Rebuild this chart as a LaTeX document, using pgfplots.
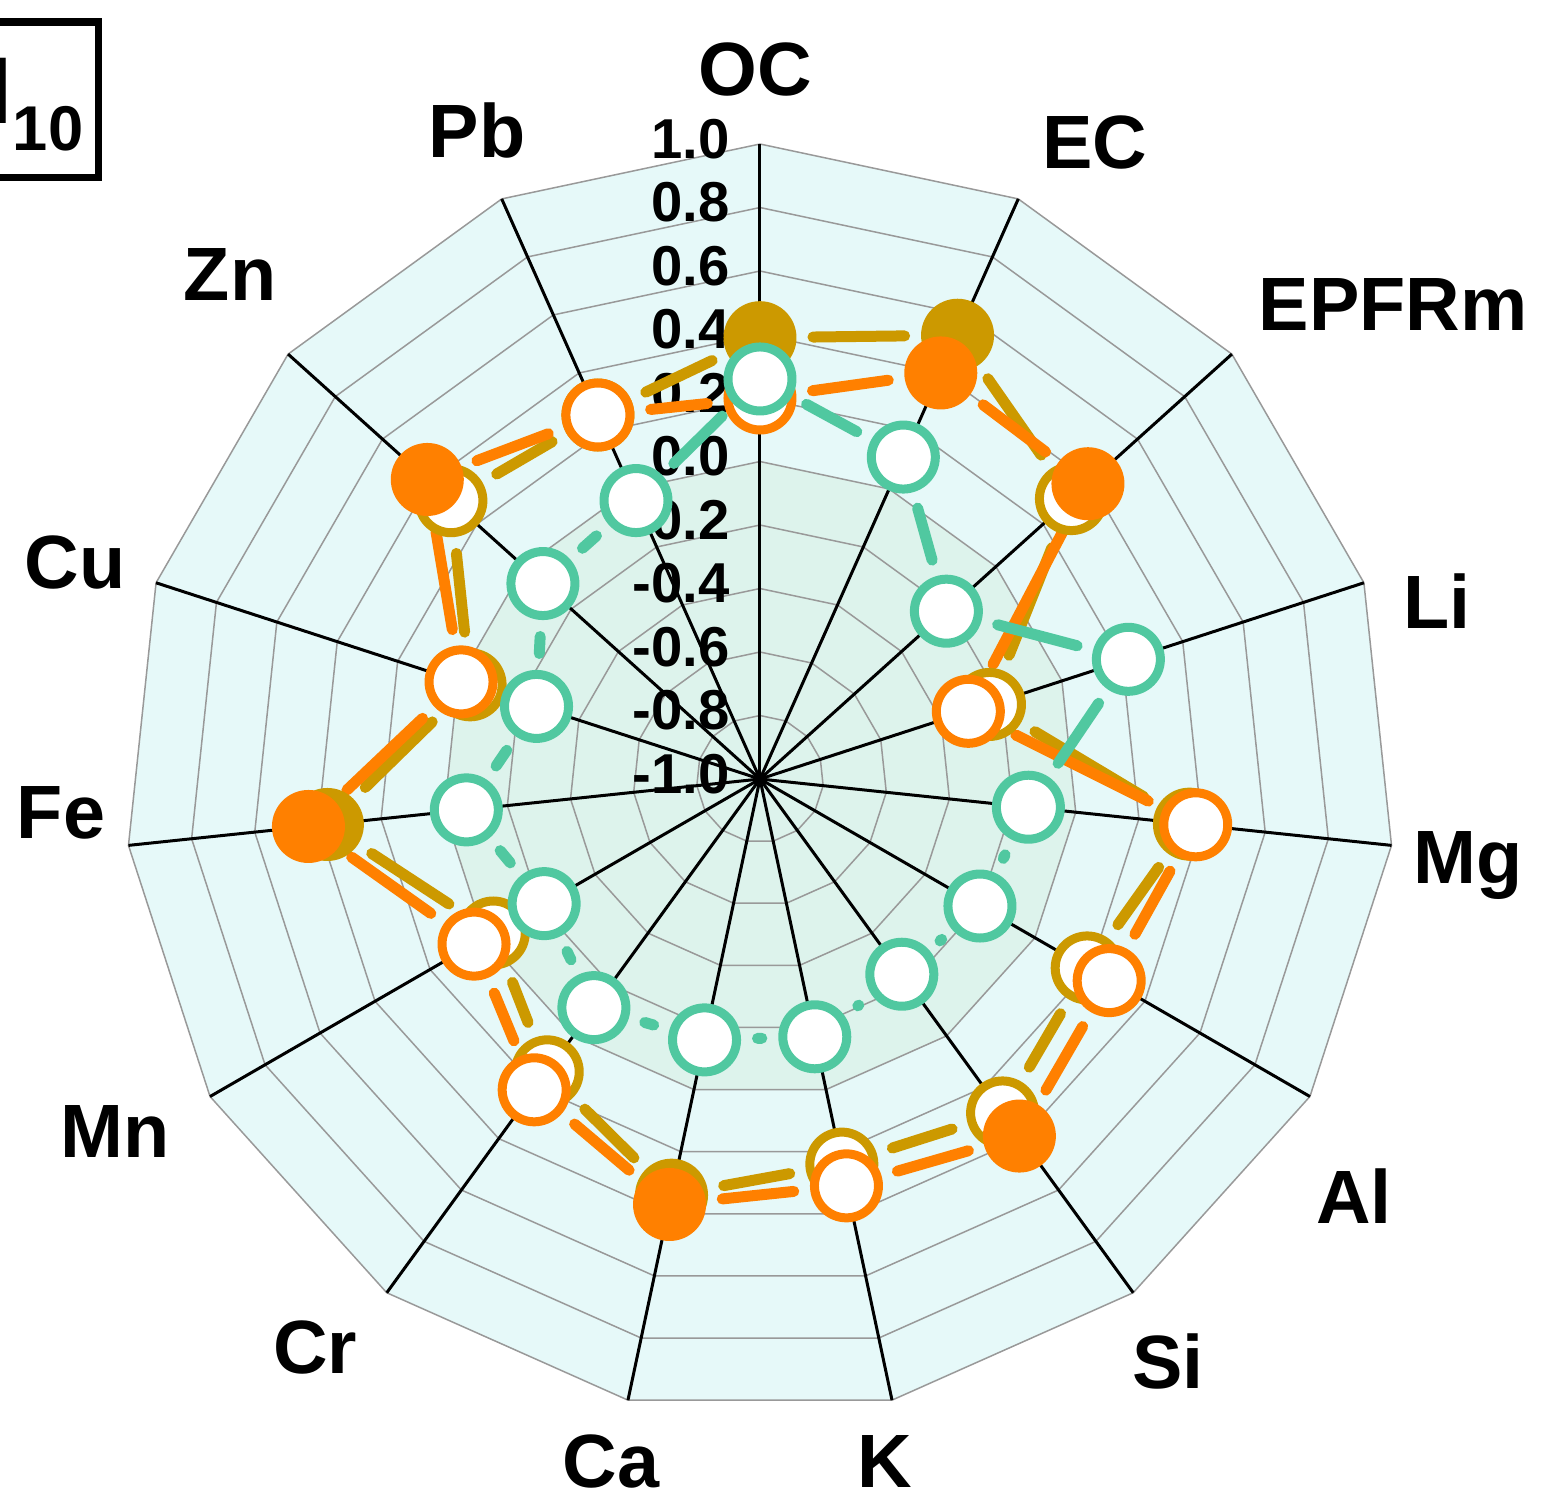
\documentclass[border=0pt]{standalone}
\usepackage{pgfplots}
\pgfplotsset{compat=1.18}
\usepackage{pgfplotstable}
\usepgfplotslibrary{polar}
\usepackage{fontspec}
\setmainfont{Liberation Sans}

\definecolor{cgold}{HTML}{CC9900}
\definecolor{corange}{HTML}{FF8000}
\definecolor{cteal}{HTML}{50C8A0}
\definecolor{bgout}{HTML}{E6F9F9}
\definecolor{bgin}{HTML}{DDF3EC}
\definecolor{gridc}{HTML}{999999}

% i = spoke index (OC=0, clockwise), values of the three series, f = filled marker, o = open marker
\pgfplotstableread{
i  gold    orange  teal    g o t
0  0.39    0.20    0.26    f o o
1  0.53    0.40    0.11    f f o
2  0.32    0.39    -0.21   o f o
3  -0.24   -0.31   0.22    o o o
4  0.36    0.38    -0.15   o o o
5  0.19    0.27    -0.20   o o o
6  0.30    0.39    -0.24   o f o
7  0.24    0.31    -0.17   o o o
8  0.34    0.37    -0.16   f f o
9  0.14    0.21    -0.11   o o o
10 -0.03   0.04    -0.215  o o o
11 0.37    0.43    -0.07   f f o
12 -0.04   -0.01   -0.26   o o o
13 0.31    0.41    -0.08   o f o
14 0.255   0.255   -0.04   o o o
15 0.39    0.20    0.26    f o o
}\data

\pgfplotstableread{
a     r
90    1
66    1
42    1
18    1
-6    1
-30   1
-54   1
-78   1
-102  1
-126  1
-150  1
-174  1
-198  1
-222  1
-246  1
-270  1
}\angles

\pgfplotsset{
  segbase/.style={line width=1.1mm, line cap=round, shorten <=5.3mm, shorten >=5.3mm, forget plot, no markers},
}

\newcommand\segs[2]{%
  \pgfplotsforeachungrouped \k in {0,...,14}{%
    \pgfmathtruncatemacro\kn{\k+1}%
    \pgfmathsetmacro\aa{90-24*\k}%
    \pgfmathsetmacro\ab{90-24*\kn}%
    \pgfplotstablegetelem{\k}{#1}\of\data
    \pgfmathsetmacro\ra{\pgfplotsretval+1}%
    \pgfplotstablegetelem{\kn}{#1}\of\data
    \pgfmathsetmacro\rb{\pgfplotsretval+1}%
    \edef\tmp{\noexpand\addplot[segbase,#2] coordinates {(\aa,\ra) (\ab,\rb)};}\tmp
  }%
}

\begin{document}
\begin{tikzpicture}
\path[use as bounding box] (-7.60,-7.21) rectangle (7.84,7.79);
\begin{polaraxis}[
  at={(0,0)}, anchor=origin,
  scale only axis, width=12.7cm, height=12.7cm,
  xmin=0, xmax=360, ymin=0, ymax=2,
  hide axis, grid=none, xtick=\empty, ytick=\empty,
  clip=false,
]
% background
\addplot[draw=none, fill=bgout, forget plot] table[x=a, y expr={2*\thisrow{r}}] {\angles};
\addplot[draw=none, fill=bgin, forget plot] table[x=a, y expr={\thisrow{r}}] {\angles};
% rings every 0.2
\pgfplotsinvokeforeach{0.2,0.4,0.6,0.8,1.0,1.2,1.4,1.6,1.8,2.0}{
  \addplot[gridc, line width=0.15mm, forget plot] table[x=a, y expr={#1*\thisrow{r}}] {\angles};
}
% spokes
\pgfplotsinvokeforeach{90,66,42,18,-6,-30,-54,-78,-102,-126,-150,-174,-198,-222,-246}{
  \addplot[black, line width=0.3mm, forget plot] coordinates {(0,0) (#1,2)};
}
% radial tick labels
\pgfplotsinvokeforeach{1.0/2.0,0.8/1.8,0.6/1.6,0.4/1.4,0.2/1.2,0.0/1.0,-0.2/0.8,-0.4/0.6,-0.6/0.4,-0.8/0.2,-1.0/0.0}{
  \foreach \lab/\rr in {#1}{
    \edef\tmp{\noexpand\node[anchor=east, inner sep=0pt, xshift=-3mm, yshift=0.5mm, font=\noexpand\fontsize{16pt}{16pt}\noexpand\selectfont\noexpand\bfseries] at (axis cs:90,\rr) {\lab};}\tmp
  }
}
% gold series
\segs{gold}{cgold}
\addplot[scatter, only marks, point meta=explicit symbolic, mark size=3.2mm,
  skip coords between index={15}{16},
  scatter/classes={f={mark=*, draw=cgold, fill=cgold, line width=0.9mm},
                   o={mark=*, draw=cgold, fill=white, line width=0.9mm}}]
  table[x expr={90-24*\thisrow{i}}, y expr={\thisrow{gold}+1}, meta=g] {\data};
% orange series
\segs{orange}{corange}
\addplot[scatter, only marks, point meta=explicit symbolic, mark size=3.2mm,
  skip coords between index={15}{16},
  scatter/classes={f={mark=*, draw=corange, fill=corange, line width=0.9mm},
                   o={mark=*, draw=corange, fill=white, line width=0.9mm}}]
  table[x expr={90-24*\thisrow{i}}, y expr={\thisrow{orange}+1}, meta=o] {\data};
% teal series
\segs{teal}{cteal}
\addplot[scatter, only marks, point meta=explicit symbolic, mark size=3.2mm,
  skip coords between index={15}{16},
  scatter/classes={f={mark=*, draw=cteal, fill=cteal, line width=0.9mm},
                   o={mark=*, draw=cteal, fill=white, line width=0.9mm}}]
  table[x expr={90-24*\thisrow{i}}, y expr={\thisrow{teal}+1}, meta=t] {\data};
\end{polaraxis}

% category labels
\begin{scope}[every node/.style={anchor=base, inner sep=0pt, font=\fontsize{21.5pt}{21.5pt}\selectfont\bfseries}]
\node at (-0.05,6.84) {OC};
\node at (3.35,6.11) {EC};
\node at (6.33,4.49) {EPFRm};
\node at (6.77,1.51) {Li};
\node at (7.08,-1.04) {Mg};
\node at (5.94,-4.44) {Al};
\node at (4.08,-6.09) {Si};
\node at (1.25,-7.08) {K};
\node at (-1.49,-7.08) {Ca};
\node at (-4.45,-5.94) {Cr};
\node at (-6.45,-3.78) {Mn};
\node at (-6.99,-0.59) {Fe};
\node at (-6.85,1.91) {Cu};
\node at (-5.30,4.79) {Zn};
\node at (-2.83,6.22) {Pb};
\end{scope}

% panel tag
\draw[line width=0.75mm] (-9,6.015) rectangle (-6.615,7.57);
\node[anchor=base east, inner sep=0pt] at (-6.76,6.56)
  {\fontsize{27pt}{27pt}\selectfont\bfseries PM\raisebox{-2.7mm}{\fontsize{18pt}{18pt}\selectfont 10}};
\end{tikzpicture}
\end{document}
